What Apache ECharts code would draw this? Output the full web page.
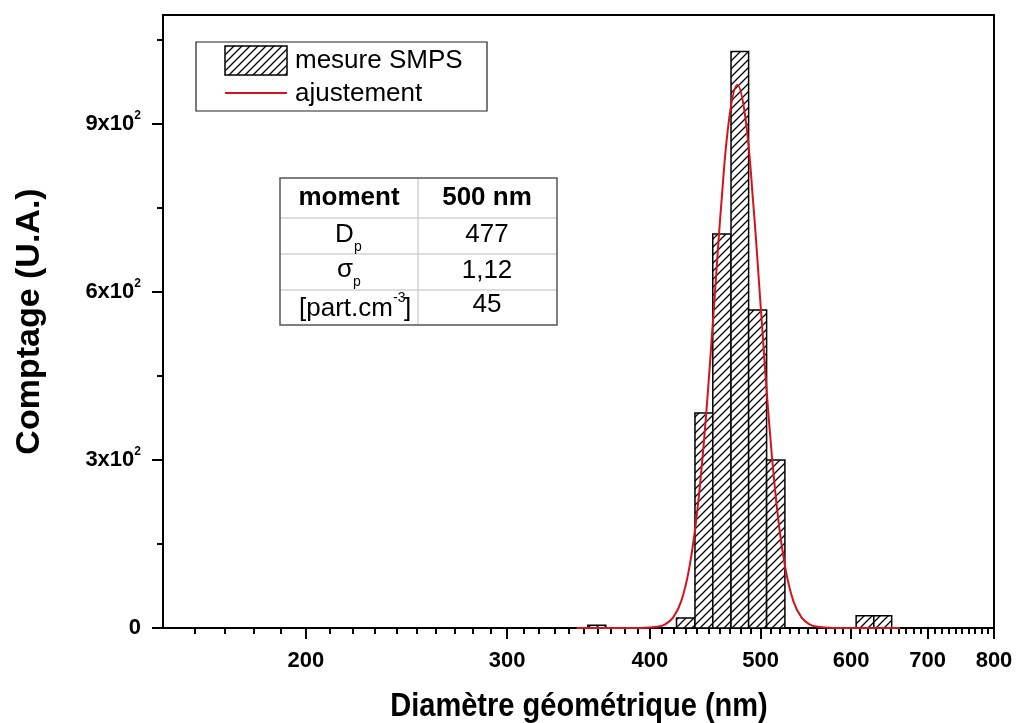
<!DOCTYPE html>
<html><head><meta charset="utf-8">
<script src="https://cdn.jsdelivr.net/npm/echarts@6/dist/echarts.min.js"></script>
<style>html,body{margin:0;padding:0;background:#fff}#c{width:1016px;height:723px}</style>
</head><body><div id="c"></div>
<script>
// ---- data (diameters in nm) ----
const binLow  = [353, 422, 438, 454, 471, 488, 506, 606, 628];
const binHigh = [366, 438, 454, 471, 488, 506, 525, 628, 651];
const counts  = [5, 18, 384, 704, 1030, 568, 300, 22, 22];
const fitD = [345, 393.0, 405.9, 412.5, 419.2, 426.0, 432.9, 440.0, 447.2, 454.5, 461.9, 469.4, 477, 484.8, 492.6, 500.7, 508.8, 517.1, 525.6, 534.1, 542.8, 551.6, 560.6, 579.0, 662];
const fitY = [0, 0.1, 2.1, 6.6, 18.9, 47.5, 106, 208, 362, 557, 758, 912, 970, 912, 758, 557, 362, 208, 106, 47.5, 18.9, 6.6, 2.1, 0.1, 0];
const xTickLabels = [200, 300, 400, 500, 600, 700, 800];
const yTickValues = [0, 300, 600, 900];
const yMinorValues = [150, 450, 750, 1050];

const L = Math.log10;
const xMin = L(150), xMax = L(800);
const minorX = [];
for (let d = 160; d < 800; d += 10) if (!xTickLabels.includes(d)) minorX.push(L(d));

// hatch pattern
const cv = document.createElement('canvas'); cv.width = 8; cv.height = 8;
const cx = cv.getContext('2d');
cx.fillStyle = '#fff'; cx.fillRect(0, 0, 8, 8);
cx.strokeStyle = '#000'; cx.lineWidth = 1.3;
cx.beginPath();
cx.moveTo(0, 8); cx.lineTo(8, 0);
cx.moveTo(-2, 2); cx.lineTo(2, -2);
cx.moveTo(6, 10); cx.lineTo(10, 6);
cx.stroke();
const hatch = { image: cv, repeat: 'repeat' };

const FONT = 'Liberation Sans, Arial, sans-serif';
const RED = '#d4141c';

const barData = binLow.map((lo, i) => [L(lo), L(binHigh[i]), counts[i]]);
const lineData = fitD.map((d, i) => [L(d), fitY[i]]);

const chart = echarts.init(document.getElementById('c'));
const gridBox = { left: 163, right: 22, top: 15, bottom: 95, outerBoundsMode: 'none' };

const g = [];
// x-axis title (slightly condensed like the original)
g.push({ type: 'text', x: 579, y: 707, scaleX: 0.88, style: { text: 'Diamètre géométrique (nm)', font: 'bold 33px ' + FONT, fill: '#000', align: 'center', verticalAlign: 'middle' }, z: 10 });
// legend box
g.push({ type: 'rect', shape: { x: 196, y: 42, width: 291, height: 69 }, style: { fill: '#fff', stroke: '#222', lineWidth: 1.2 }, z: 10 });
g.push({ type: 'rect', shape: { x: 225, y: 46, width: 62, height: 29 }, style: { fill: hatch, stroke: '#000', lineWidth: 1.5 }, z: 11 });
g.push({ type: 'text', x: 295, y: 61, style: { text: 'mesure SMPS', font: '26px ' + FONT, fill: '#000', verticalAlign: 'middle' }, z: 11 });
g.push({ type: 'line', shape: { x1: 225, y1: 93, x2: 287, y2: 93 }, style: { stroke: RED, lineWidth: 2 }, z: 11 });
g.push({ type: 'text', x: 295, y: 94, style: { text: 'ajustement', font: '26px ' + FONT, fill: '#000', verticalAlign: 'middle' }, z: 11 });

// table
const tX0 = 280, tX1 = 557, tXm = 418, tY = [178, 218, 254, 290, 325];
g.push({ type: 'rect', shape: { x: tX0, y: tY[0], width: tX1 - tX0, height: tY[4] - tY[0] }, style: { fill: '#fff', stroke: 'none' }, z: 10 });
[tY[1], tY[2], tY[3]].forEach(y => g.push({ type: 'line', shape: { x1: tX0, y1: y, x2: tX1, y2: y }, style: { stroke: '#bbb', lineWidth: 1 }, z: 11 }));
g.push({ type: 'line', shape: { x1: tXm, y1: tY[0], x2: tXm, y2: tY[4] }, style: { stroke: '#bbb', lineWidth: 1 }, z: 11 });
g.push({ type: 'rect', shape: { x: tX0, y: tY[0], width: tX1 - tX0, height: tY[4] - tY[0] }, style: { fill: 'none', stroke: '#555', lineWidth: 1.5 }, z: 12 });
function txt(t, x, y, size, bold, align) {
  g.push({ type: 'text', x: x, y: y, style: { text: t, font: (bold ? 'bold ' : '') + size + 'px ' + FONT, fill: '#000', align: align || 'center', verticalAlign: 'middle' }, z: 13 });
}
txt('moment', 349, 198, 26, true);
txt('500 nm', 487, 198, 26, true);
txt('D', 335, 235, 26, false, 'left');
txt('p', 354, 247, 14, false, 'left');
txt('477', 487, 235, 26, false);
txt('σ', 337, 270, 26, false, 'left');
txt('p', 353, 282, 14, false, 'left');
txt('1,12', 487, 271, 26, false);
txt('[part.cm', 299, 309, 26, false, 'left');
txt('-3', 393, 298, 14, false, 'left');
txt(']', 404, 309, 26, false, 'left');
txt('45', 487, 305, 26, false);

const option = {
  animation: false,
  backgroundColor: '#fff',
  grid: [Object.assign({ show: true, borderColor: '#000', borderWidth: 2 }, gridBox), Object.assign({}, gridBox)],
  xAxis: [
    {
      type: 'value', gridIndex: 0, min: xMin, max: xMax,
      axisLine: { lineStyle: { color: '#000', width: 2 } },
      axisTick: { customValues: xTickLabels.map(L), length: 11, lineStyle: { color: '#000', width: 2 } },
      axisLabel: { customValues: xTickLabels.map(L), formatter: v => String(Math.round(Math.pow(10, v))), margin: 22, color: '#000', fontSize: 22, fontWeight: 'bold', fontFamily: FONT },
      splitLine: { show: false }
    },
    {
      type: 'value', gridIndex: 1, min: xMin, max: xMax,
      axisLine: { show: false },
      axisTick: { customValues: minorX, length: 6, lineStyle: { color: '#000', width: 2 } },
      axisLabel: { show: false }, splitLine: { show: false }
    }
  ],
  yAxis: [
    {
      type: 'value', gridIndex: 0, min: 0, max: 1095,
      axisLine: { show: true, lineStyle: { color: '#000', width: 2 } },
      axisTick: { show: true, customValues: yTickValues, length: 11, lineStyle: { color: '#000', width: 2 } },
      axisLabel: {
        customValues: yTickValues, margin: 22,
        formatter: v => v === 0 ? '{a|0}' : '{a|' + (v / 100) + 'x10}{s|2}',
        rich: {
          a: { color: '#000', fontSize: 22, fontWeight: 'bold', fontFamily: FONT, lineHeight: 28, verticalAlign: 'middle' },
          s: { color: '#000', fontSize: 12, fontWeight: 'bold', fontFamily: FONT, lineHeight: 12, verticalAlign: 'top' }
        }
      },
      splitLine: { show: false },
      name: 'Comptage (U.A.)', nameLocation: 'middle', nameGap: 116,
      nameTextStyle: { color: '#000', fontSize: 34, fontWeight: 'bold', fontFamily: FONT }
    },
    {
      type: 'value', gridIndex: 1, min: 0, max: 1095,
      axisLine: { show: false },
      axisTick: { show: true, customValues: yMinorValues, length: 6, lineStyle: { color: '#000', width: 2 } },
      axisLabel: { show: false }, splitLine: { show: false }
    }
  ],
  series: [
    {
      type: 'custom', xAxisIndex: 0, yAxisIndex: 0,
      data: barData,
      encode: { x: [0, 1], y: 2 },
      renderItem: function (params, api) {
        const p0 = api.coord([api.value(0), api.value(2)]);
        const p1 = api.coord([api.value(1), 0]);
        return { type: 'rect', shape: { x: p0[0], y: p0[1], width: p1[0] - p0[0], height: p1[1] - p0[1] }, style: { fill: hatch, stroke: '#000', lineWidth: 1.5 } };
      },
      z: 2
    },
    {
      type: 'line', xAxisIndex: 0, yAxisIndex: 0,
      data: lineData, showSymbol: false, symbol: 'none', smooth: 0.4,
      lineStyle: { color: RED, width: 2 }, z: 3
    }
  ],
  graphic: g
};
chart.setOption(option);
</script>
</body></html>
